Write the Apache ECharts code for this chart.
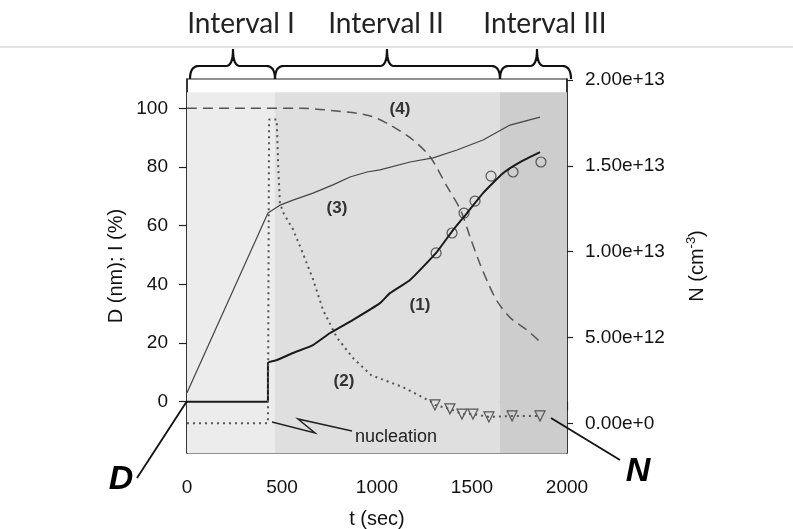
<!DOCTYPE html>
<html><head><meta charset="utf-8">
<script src="https://cdn.jsdelivr.net/npm/echarts@6/dist/echarts.min.js"></script>
<style>html,body{margin:0;padding:0;background:#fff}#c{width:793px;height:529px}</style>
</head><body><div id="c"></div>
<script>
// ---- data ----
const tTicks = [0, 500, 1000, 1500, 2000];
const leftTicks = [0, 20, 40, 60, 80, 100];
const rightTicks = [0, 5e12, 1e13, 1.5e13, 2e13];
const intervalNames = ['Interval I', 'Interval II', 'Interval III'];
const intervalBounds = [0, 463, 1647, 2000];
const intervalColors = ['#ececec', '#dfdfdf', '#cdcdcd'];

// (4) dashed, left axis
const curve4T = [0, 300, 600, 800, 960, 1070, 1190, 1280, 1370, 1440, 1490, 1540, 1585, 1630, 1700, 1790, 1860];
const curve4V = [100, 100, 100, 99, 97.5, 94.3, 89.2, 83.4, 73.2, 65.3, 56.1, 47.3, 40.4, 34.5, 28.7, 24.4, 20.3];
// (3) thin solid, left axis
const curve3T = [0, 426, 489, 558, 663, 768, 858, 947, 1016, 1174, 1295, 1421, 1558, 1700, 1858];
const curve3V = [3, 64.3, 67, 68.7, 71.1, 73.9, 76.6, 78.3, 79, 81.7, 83.1, 85.8, 89.2, 94.3, 97];
// (1) thick solid, left axis
const curve1T = [0, 426, 426, 474, 558, 663, 753, 874, 1016, 1068, 1174, 1311, 1400, 1474, 1558, 1663, 1753, 1858];
const curve1V = [0, 0, 13.2, 14.2, 16.6, 19.3, 23.4, 27.9, 33.6, 37, 41.5, 50.7, 58.5, 64.3, 71.1, 77.9, 81.7, 85.1];
// (1) measured circles
const circleT = [1311, 1395, 1458, 1516, 1600, 1716, 1863];
const circleV = [50.7, 57.5, 64.3, 68.4, 76.9, 78.3, 81.7];
// (2) dotted, right axis (units of 1e12 cm^-3)
const curve2T = [0, 426, 432, 472, 480, 489, 510, 558, 610, 663, 716, 789, 874, 970, 1137, 1295, 1305, 1384, 1447, 1505, 1589, 1711, 1858];
const curve2N = [0, 0, 17.7, 17.7, 15, 12.8, 12.2, 11.3, 9.9, 8.4, 6.6, 5.0, 3.8, 2.8, 2.1, 1.2, 1.07, 0.84, 0.54, 0.54, 0.37, 0.43, 0.43];
// (2) measured triangles
const triT = [1305, 1384, 1447, 1505, 1589, 1711, 1858];
const triN = [1.07, 0.84, 0.54, 0.54, 0.37, 0.43, 0.43];

const curveLabels = ['(1)', '(2)', '(3)', '(4)'];

const zip = (a, b, k) => a.map((v, i) => [v, b[i] * (k || 1)]);
const FONT = "'Liberation Sans', Arial, sans-serif";
const TXT = '#111';

const chart = echarts.init(document.getElementById('c'), null, {renderer: 'canvas'});

const shadeData = intervalColors.map((c, i) => [
  {xAxis: intervalBounds[i], yAxis: 105.5, itemStyle: {color: c}},
  {xAxis: intervalBounds[i + 1], yAxis: -19.9}
]);

const option = {
  animation: false,
  backgroundColor: '#fff',
  grid: {left: 187, right: 226, top: 79, bottom: 76, outerBoundsMode: 'none', containLabel: false,
    show: true, borderColor: '#222', borderWidth: 1.2, backgroundColor: 'transparent'},
  xAxis: {
    type: 'value', min: tTicks[0], max: tTicks[tTicks.length - 1], interval: 500,
    axisLine: {lineStyle: {color: '#222', width: 1.5}},
    axisTick: {length: 9, lineStyle: {color: '#222', width: 1.2}},
    axisLabel: {margin: 25, fontSize: 19, color: TXT, fontFamily: FONT, formatter: v => String(v)},
    splitLine: {show: false},
    name: 't (sec)', nameLocation: 'middle', nameGap: 56,
    nameTextStyle: {fontSize: 20, color: TXT, fontFamily: FONT}
  },
  yAxis: [{
    type: 'value', min: -17.5, max: 110,
    axisLine: {show: true, lineStyle: {color: '#222', width: 1.5}},
    axisTick: {show: true, length: 8, customValues: leftTicks, lineStyle: {color: '#222', width: 1.2}},
    axisLabel: {customValues: leftTicks, margin: 19, fontSize: 19, color: TXT, fontFamily: FONT},
    splitLine: {show: false},
    name: 'D (nm); I (%)', nameLocation: 'middle', nameGap: 61,
    nameTextStyle: {fontSize: 20, color: TXT, fontFamily: FONT}
  }, {
    type: 'value', position: 'right', min: -1.73e12, max: 20.06e12,
    axisLine: {show: true, lineStyle: {color: '#222', width: 1.5}},
    axisTick: {show: true, length: 6, customValues: rightTicks, lineStyle: {color: '#222', width: 1.2}},
    axisLabel: {customValues: rightTicks, margin: 18, fontSize: 19, color: TXT, fontFamily: FONT,
      formatter: v => Number(v).toExponential(2)},
    splitLine: {show: false},
    name: '{a|N (cm}{s|-3}{a|)}', nameLocation: 'middle', nameGap: 118,
    nameTextStyle: {fontFamily: FONT, color: TXT,
      rich: {a: {fontSize: 20, fontFamily: FONT, color: TXT, lineHeight: 24},
             s: {fontSize: 13, fontFamily: FONT, color: TXT, verticalAlign: 'top', lineHeight: 24}}}
  }],
  series: [
    {type: 'line', name: 'shade', data: [], silent: true,
      markArea: {silent: true, data: shadeData}},
    {type: 'line', name: '(4)', data: zip(curve4T, curve4V), smooth: 0.3, symbol: 'none',
      lineStyle: {color: '#555', width: 1.5, type: [10, 6]}},
    {type: 'line', name: '(3)', data: zip(curve3T, curve3V), symbol: 'none',
      lineStyle: {color: '#444', width: 1.2}},
    {type: 'line', name: '(1)', data: zip(curve1T, curve1V), symbol: 'none', smooth: 0.15,
      lineStyle: {color: '#1a1a1a', width: 2}},
    {type: 'scatter', name: 'circles', data: zip(circleT, circleV), symbol: 'circle', symbolSize: 10,
      itemStyle: {color: 'rgba(0,0,0,0)', borderColor: '#333', borderWidth: 1.2}},
    {type: 'line', name: '(2)', yAxisIndex: 1, data: zip(curve2T, curve2N, 1e12), symbol: 'none',
      lineStyle: {color: '#555', width: 2, type: [2, 4]}},
    {type: 'scatter', name: 'triangles', yAxisIndex: 1, data: zip(triT, triN, 1e12),
      symbol: 'triangle', symbolRotate: 180, symbolSize: 10,
      itemStyle: {color: 'rgba(0,0,0,0)', borderColor: '#333', borderWidth: 1.2}}
  ]
};
chart.setOption(option);

// ---- decorations ----
function quad(p0, p1, p2, out) {
  for (let k = 1; k <= 8; k++) {
    const s = k / 8, u = 1 - s;
    out.push([u * u * p0[0] + 2 * u * s * p1[0] + s * s * p2[0], u * u * p0[1] + 2 * u * s * p1[1] + s * s * p2[1]]);
  }
}
function brace(x0, x1, xc) {
  const yb = 79, yh = 66, yt = 49;
  const pts = [[x0, yb]];
  quad([x0, yb], [x0, yh], [x0 + 9, yh], pts);
  pts.push([xc - 7, yh]);
  quad([xc - 7, yh], [xc, yh], [xc, yt], pts);
  quad([xc, yt], [xc, yh], [xc + 7, yh], pts);
  pts.push([x1 - 9, yh]);
  quad([x1 - 9, yh], [x1, yh], [x1, yb], pts);
  return pts;
}
const braceX = [[190, 275, 233], [275, 500, 387], [500, 571, 537]];
const labelX = [241, 386, 545];
const g = [];
g.push({type: 'line', shape: {x1: 0, y1: 47, x2: 793, y2: 47}, style: {stroke: '#c8c8c8', lineWidth: 1}, z: 10});
braceX.forEach((b, i) => {
  g.push({type: 'polyline', shape: {points: brace(b[0], b[1], b[2])}, style: {fill: null, stroke: '#111', lineWidth: 2.2}, z: 10});
  g.push({type: 'text', x: labelX[i], y: 24, style: {text: intervalNames[i], font: "28px Lato, 'Open Sans', sans-serif",
    fill: '#222', align: 'center', verticalAlign: 'middle'}, z: 10});
});
// pointer letters
g.push({type: 'text', x: 121, y: 480, style: {text: 'D', font: "italic bold 34px " + FONT, fill: '#000', align: 'center', verticalAlign: 'middle'}, z: 10});
g.push({type: 'line', shape: {x1: 137, y1: 478, x2: 187, y2: 401}, style: {stroke: '#111', lineWidth: 1.8}, z: 10});
g.push({type: 'text', x: 638, y: 472, style: {text: 'N', font: "italic bold 34px " + FONT, fill: '#000', align: 'center', verticalAlign: 'middle'}, z: 10});
g.push({type: 'line', shape: {x1: 551, y1: 418, x2: 620, y2: 460}, style: {stroke: '#111', lineWidth: 1.8}, z: 10});
// nucleation
g.push({type: 'polyline', shape: {points: [[272, 422], [315, 433], [298, 419], [352, 431]]}, style: {fill: null, stroke: '#222', lineWidth: 1.5}, z: 10});
g.push({type: 'text', x: 355, y: 437, style: {text: 'nucleation', font: "18px " + FONT, fill: '#222', align: 'left', verticalAlign: 'middle'}, z: 10});
// curve labels
const labelPos = [[420, 305], [344, 381], [337, 208], [400, 109]];
curveLabels.forEach((s, i) => {
  g.push({type: 'text', x: labelPos[i][0], y: labelPos[i][1], style: {text: s, font: "bold 17px " + FONT, fill: '#333', align: 'center', verticalAlign: 'middle'}, z: 10});
});
chart.setOption({graphic: g});
</script>
</body></html>
